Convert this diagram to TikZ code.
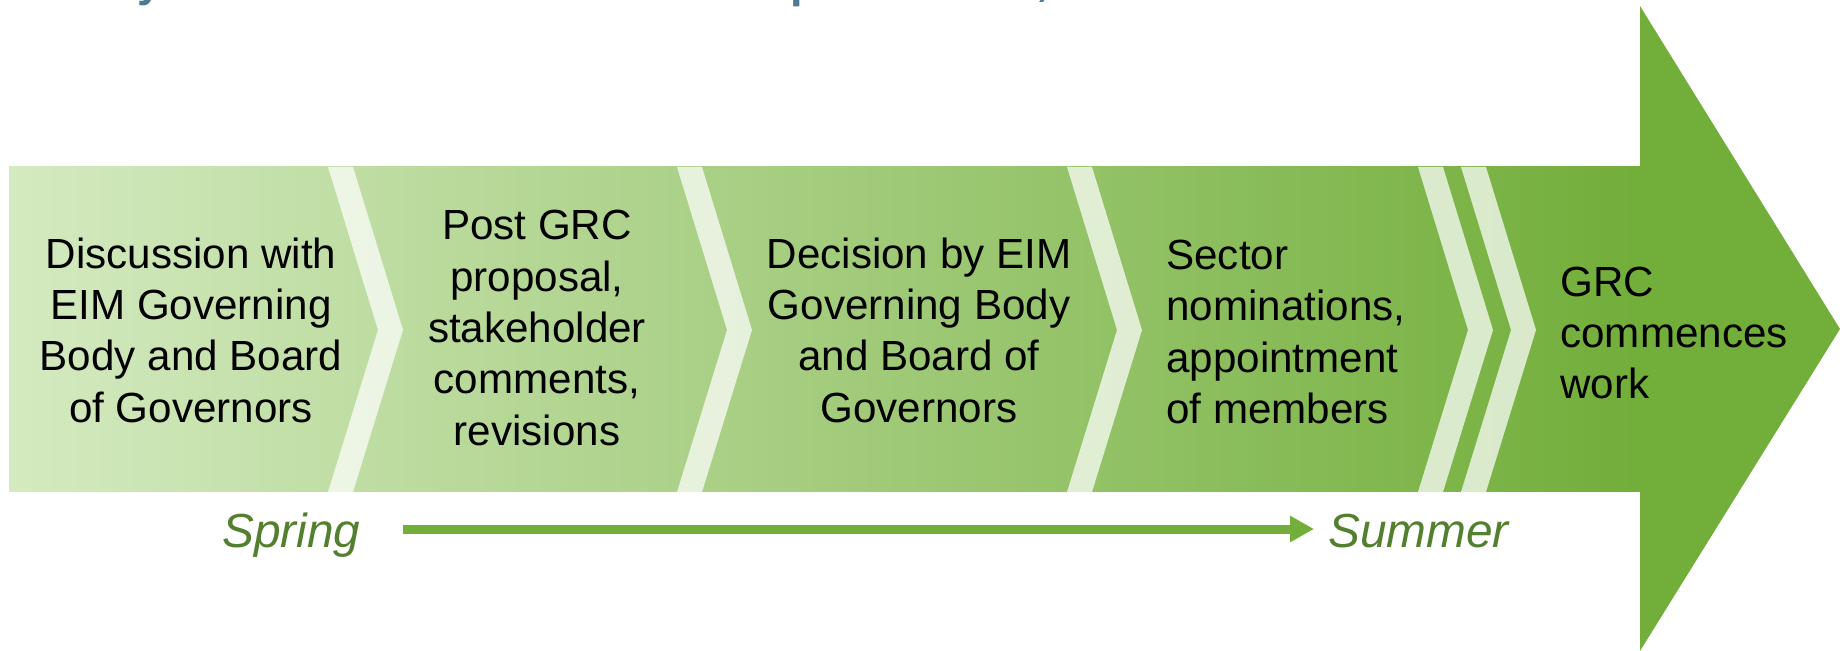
\documentclass[tikz,border=0pt]{standalone}
\usepackage{fontspec}
\setmainfont{Liberation Sans}
\usetikzlibrary{arrows.meta}

\definecolor{lightgreen}{HTML}{D4EAC0}
\definecolor{arrowgreen}{HTML}{72AE3A}
\definecolor{seasongreen}{HTML}{52802E}
\definecolor{titleblue}{HTML}{4E7A92}

\begin{document}
\begin{tikzpicture}[x=0.02cm, y=-0.02cm,
  stage/.style={font=\fontsize{24}{29.2}\selectfont, align=center, inner sep=0pt},
  season/.style={font=\fontsize{27.2}{32}\selectfont\itshape, text=seasongreen,
    inner sep=0pt, text height=0.9cm, text depth=0.14cm, anchor=base west},
  gap/.style={fill=white, fill opacity=0.72},
  timeline/.style={draw=arrowgreen, line width=0.18cm, -{Triangle[length=0.48cm,width=0.5cm]}},
  title/.style={font=\fontsize{25.6}{30}\selectfont\bfseries, text=titleblue,
    inner sep=0pt, anchor=base west}]
  \useasboundingbox (0,0) rectangle (1840,651);

  % cut-off title line
  \node[title] (ty) at (137,-3) {y};
  \node[title] (tp) at (790,-2) {p};
  \node[title] (tc) at (1036,-4) {,};

  % big arrow
  \fill[arrowgreen] (1640,167) -- (1640,6) -- (1840,329) -- (1640,651) -- (1640,492) -- cycle;
  \fill[left color=lightgreen, right color=arrowgreen] (9,167) rectangle (1641,492);
  \foreach \sx in {328,677,1067,1418,1461}
    \fill[gap] (\sx,167) -- ++(25,0) -- ++(50,163) -- ++(-50,162) -- ++(-25,0) -- ++(50,-162) -- cycle;

  % stages
  \node[stage] (discuss) at (191,330) {Discussion with\\EIM Governing\\Body and Board\\of Governors};
  \node[stage] (post) at (537,328) {Post GRC\\proposal,\\stakeholder\\comments,\\revisions};
  \node[stage] (decide) at (919,330) {Decision by EIM\\Governing Body\\and Board of\\Governors};
  \node[stage, align=left, anchor=west] (sector) at (1166,332) {Sector\\nominations,\\appointment\\of members};
  \node[stage, align=left, anchor=west] (start) at (1560,333) {GRC\\commences\\work};

  % time line
  \node[season] (spring) at (222,548) {Spring};
  \node[season] (summer) at (1328,548) {Summer};
  \draw[timeline] ([xshift=0.84cm]spring.east) -- ([xshift=-0.28cm]summer.west);
\end{tikzpicture}
\end{document}
